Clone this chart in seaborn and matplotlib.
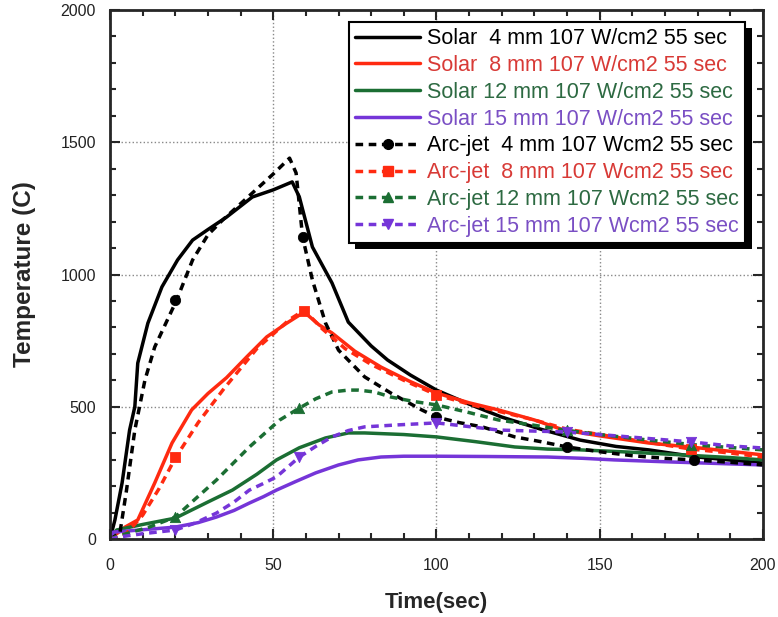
import numpy as np
import seaborn as sns
import matplotlib.pyplot as plt
import matplotlib.patheffects as pe
from matplotlib.lines import Line2D
from matplotlib.ticker import MultipleLocator

# Solar runs (solid lines)
solar4_x = [0, 1.5, 3.7, 6, 7.6, 8.5, 11.6, 15.9, 20.7, 25.3, 30, 35.7, 43.6, 50, 55.8, 58, 62, 68, 73, 80, 85, 92, 100, 110, 120, 132, 144, 155, 165, 180, 200]
solar4_y = [0, 72, 212, 412, 500, 665, 816, 953, 1055, 1130, 1170, 1217, 1293, 1320, 1350, 1293, 1104, 968, 820, 730, 677, 620, 563, 510, 461, 415, 374, 350, 337, 310, 287]

solar8_x = [0, 4.6, 8.5, 13.7, 19, 25, 30, 35.7, 42, 48, 54, 59.5, 64, 68, 75, 83, 92, 100, 110, 119, 130, 139, 150, 165, 180, 200]
solar8_y = [0, 45, 72, 212, 363, 488, 550, 610, 690, 764, 815, 858, 810, 779, 710, 650, 595, 552, 515, 488, 450, 412, 390, 363, 345, 318]

solar12_x = [0, 2, 10, 20, 30, 37.5, 45, 51, 58, 66, 73, 78, 90, 100, 112, 124, 134, 144, 160, 175, 190, 200]
solar12_y = [0, 34, 55, 79, 140, 185, 245, 299, 345, 382, 401, 401, 395, 386, 368, 348, 340, 337, 328, 318, 308, 299]

solar15_x = [0, 1, 10, 20, 27, 32.6, 38, 42.7, 47, 51, 57, 63, 70, 76, 83, 90, 100, 115, 134, 145, 154.5, 170, 185, 200]
solar15_y = [0, 26, 35, 45, 62, 83, 108, 136, 160, 185, 218, 250, 280, 299, 310, 313, 313, 312, 310, 305, 299, 292, 286, 280]

# Arc-jet runs (dashed lines with markers)
arc4_x = [0, 3, 5, 7.6, 10.7, 13.7, 20.4, 25.3, 30, 34.5, 43.6, 50, 55, 57, 59, 62, 66, 70, 78, 86, 95.5, 100, 107, 114, 124, 132, 140, 150, 160, 170, 179, 190, 200]
arc4_y = [0, 20, 180, 412, 601, 726, 903, 1055, 1150, 1206, 1308, 1380, 1440, 1384, 1142, 979, 817, 714, 613, 552, 488, 461, 440, 424, 386, 368, 348, 330, 315, 305, 299, 290, 280]
arc4_mx = [20, 59, 100, 140, 179]
arc4_my = [905, 1142, 461, 348, 299]

arc8_x = [0, 5, 10, 15, 20, 27, 35, 45, 55, 59.5, 65, 72, 80, 90, 100, 110, 120, 130, 140, 150, 165, 178, 190, 200]
arc8_y = [0, 20, 90, 190, 306, 440, 570, 720, 830, 865, 795, 720, 660, 600, 545, 510, 480, 450, 415, 395, 365, 340, 325, 310]
arc8_mx = [20, 59.5, 100, 178]
arc8_my = [310, 862, 545, 340]

arc12_x = [0, 5, 12, 20, 26, 32.6, 42.7, 52, 58, 63, 68, 73, 76, 81, 86, 93, 100, 110, 119, 130, 139, 150, 165, 180, 200]
arc12_y = [0, 20, 45, 83, 150, 223, 348, 450, 495, 530, 556, 563, 563, 556, 537, 520, 507, 478, 450, 430, 412, 395, 374, 355, 337]
arc12_mx = [20, 58, 100, 140, 178]
arc12_my = [83, 495, 507, 412, 355]

arc15_x = [0, 3, 10, 20, 26, 32.6, 38, 42.7, 47, 51, 58, 63, 68, 73, 78, 87.5, 100, 110, 119, 130, 139, 150, 165, 178, 190, 200]
arc15_y = [0, 8, 20, 34, 60, 98, 140, 185, 210, 235, 310, 350, 386, 410, 424, 431, 439, 425, 412, 408, 405, 395, 380, 367, 352, 344]
arc15_mx = [20, 58, 100, 140, 178]
arc15_my = [34, 310, 439, 405, 367]

labels_solar = ["Solar  4 mm 107 W/cm2 55 sec", "Solar  8 mm 107 W/cm2 55 sec",
                "Solar 12 mm 107 W/cm2 55 sec", "Solar 15 mm 107 W/cm2 55 sec"]
labels_arc = ["Arc-jet  4 mm 107 Wcm2 55 sec", "Arc-jet  8 mm 107 Wcm2 55 sec",
              "Arc-jet 12 mm 107 Wcm2 55 sec", "Arc-jet 15 mm 107 Wcm2 55 sec"]

line_colors = ["#000000", "#ff2a10", "#1b6e33", "#7535d8"]
text_colors = ["#000000", "#d83a36", "#2d6a42", "#7a4fc4"]
arc_markers = ["o", "s", "^", "v"]

sns.set_style("ticks")
plt.rcParams['font.family'] = ['Liberation Sans', 'DejaVu Sans']

fig = plt.figure(figsize=(7.78, 6.17), dpi=100)
ax = fig.add_axes([0.1414, 0.1264, 0.8392, 0.8574])

solar = [(solar4_x, solar4_y), (solar8_x, solar8_y), (solar12_x, solar12_y), (solar15_x, solar15_y)]
arcs = [(arc4_x, arc4_y, arc4_mx, arc4_my), (arc8_x, arc8_y, arc8_mx, arc8_my),
        (arc12_x, arc12_y, arc12_mx, arc12_my), (arc15_x, arc15_y, arc15_mx, arc15_my)]

for (x, y), c in zip(solar, line_colors):
    sns.lineplot(x=x, y=y, color=c, lw=2.5, ax=ax, estimator=None, sort=False)

for (x, y, mx, my), c, m in zip(arcs, line_colors, arc_markers):
    sns.lineplot(x=x, y=y, color=c, lw=2.5, ls=(0, (2.2, 1.6)), ax=ax, estimator=None, sort=False)
    sns.scatterplot(x=mx, y=my, color=c, marker=m, s=55, edgecolor=c, ax=ax, zorder=4)

ax.set_xlim(0, 200)
ax.set_ylim(0, 2000)
ax.xaxis.set_major_locator(MultipleLocator(50))
ax.xaxis.set_minor_locator(MultipleLocator(10))
ax.yaxis.set_major_locator(MultipleLocator(500))
ax.yaxis.set_minor_locator(MultipleLocator(100))
ax.tick_params(which='both', direction='in', top=True, right=True, width=1.5,
               labelsize=11.5, labelcolor='#222222')
ax.tick_params(which='major', length=7)
ax.tick_params(which='minor', length=4)
ax.tick_params(axis='x', which='major', pad=14)
ax.tick_params(axis='y', which='major', pad=10)
ax.grid(True, which='major', ls=':', color='#888888', lw=1)
for s in ax.spines.values():
    s.set_linewidth(2)

ax.set_xlabel("Time(sec)", fontsize=16, fontweight='bold', labelpad=13)
ax.set_ylabel("Temperature (C)", fontsize=17.5, fontweight='bold', labelpad=18)

handles = [Line2D([], [], color=c, lw=2.5) for c in line_colors]
handles += [Line2D([], [], color=c, lw=2.5, ls=(0, (2.2, 1.6)), marker=m, markersize=7)
            for c, m in zip(line_colors, arc_markers)]
leg = ax.legend(handles, labels_solar + labels_arc, loc='upper right', bbox_to_anchor=(0.973, 0.978),
                fontsize=15.5, frameon=True, fancybox=False, edgecolor='black', framealpha=1,
                handlelength=3.0, handletextpad=0.33, labelspacing=0.27, borderpad=0.3,
                borderaxespad=0, numpoints=1)
frame = leg.get_frame()
frame.set_linewidth(1.5)
frame.set_path_effects([pe.SimplePatchShadow(offset=(4.5, -4.5), shadow_rgbFace='black', alpha=1),
                        pe.Normal()])
for t, c in zip(leg.get_texts(), text_colors + text_colors):
    t.set_color(c)

fig.savefig("out.png", dpi=100)
